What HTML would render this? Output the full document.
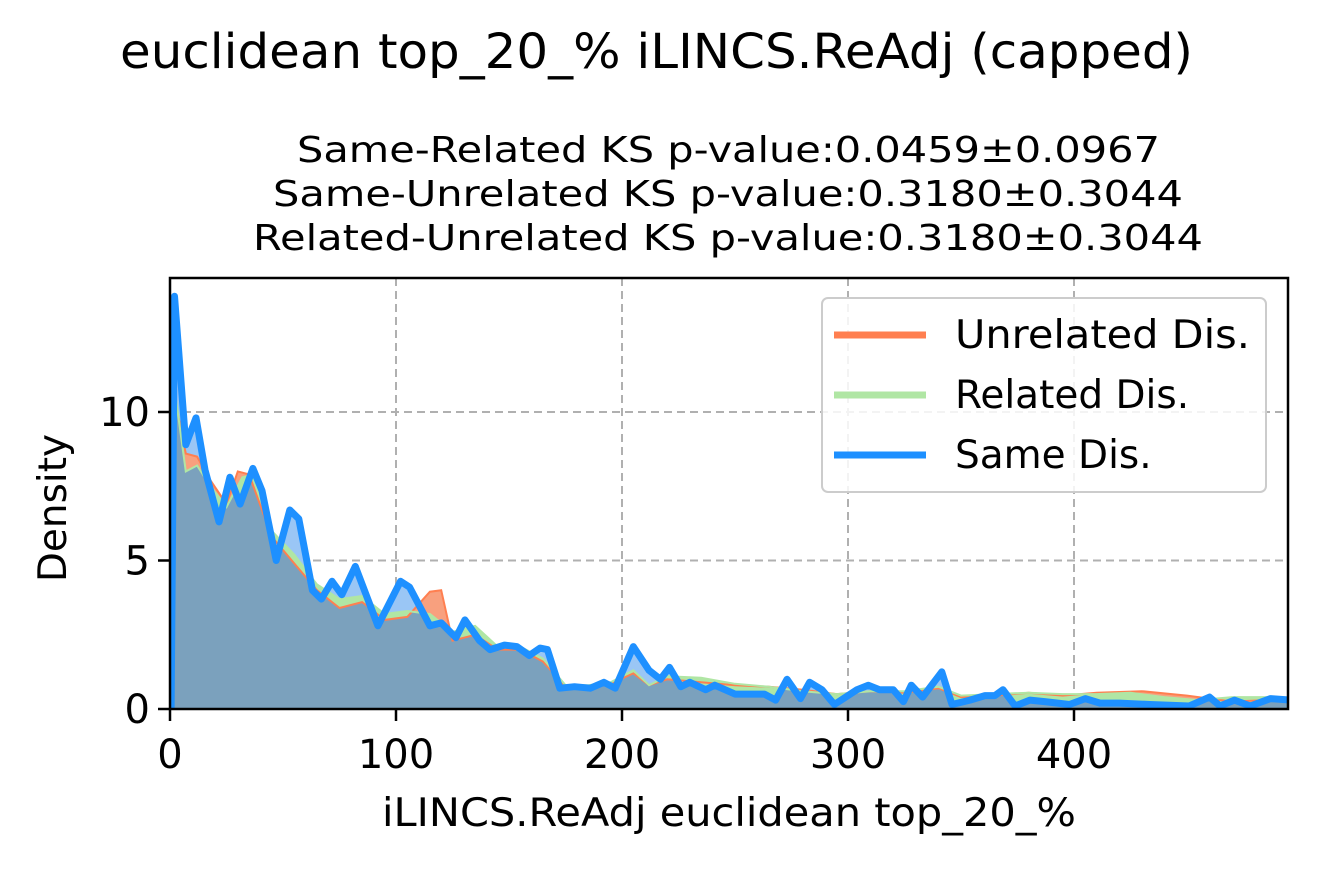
<!DOCTYPE html>
<html><head><meta charset="utf-8"><style>
body{margin:0;background:#fff;}
svg text{font-family:"DejaVu Sans","Liberation Sans",sans-serif;fill:#000;}
</style></head><body>
<svg id="chart" width="1317" height="866" viewBox="0 0 1317 866" xmlns="http://www.w3.org/2000/svg">
<text x="120" y="68" font-size="48" textLength="1073" lengthAdjust="spacingAndGlyphs">euclidean top_20_% iLINCS.ReAdj (capped)</text>
<text x="297" y="162" font-size="36" textLength="863" lengthAdjust="spacingAndGlyphs">Same-Related KS p-value:0.0459±0.0967</text>
<text x="273" y="206" font-size="36" textLength="910" lengthAdjust="spacingAndGlyphs">Same-Unrelated KS p-value:0.3180±0.3044</text>
<text x="253" y="250" font-size="36" textLength="950" lengthAdjust="spacingAndGlyphs">Related-Unrelated KS p-value:0.3180±0.3044</text>
<defs><clipPath id="clip"><rect x="170" y="278" width="1118" height="431"/></clipPath></defs>
<g id="grid"></g>
<g id="marks" clip-path="url(#clip)"></g>
<rect x="170" y="278" width="1118" height="431" fill="none" stroke="#000" stroke-width="2.5"/>
<g id="ticks"></g>
<text x="382" y="826" font-size="39" textLength="694" lengthAdjust="spacingAndGlyphs">iLINCS.ReAdj euclidean top_20_%</text>
<text x="0" y="0" font-size="39" text-anchor="middle" transform="translate(66,508) rotate(-90)">Density</text>
<g>
<rect x="822" y="298" width="444" height="194" rx="6" fill="#fff" fill-opacity="0.85" stroke="#ccc" stroke-width="2"/>
<line x1="834" y1="335" x2="926" y2="335" stroke="#ff7f50" stroke-width="7"/>
<text x="955" y="348" font-size="39" textLength="295" lengthAdjust="spacingAndGlyphs">Unrelated Dis.</text>
<line x1="834" y1="395" x2="926" y2="395" stroke="#b0e6a4" stroke-width="7"/>
<text x="955" y="408" font-size="39">Related Dis.</text>
<line x1="834" y1="455" x2="926" y2="455" stroke="#1e90ff" stroke-width="7"/>
<text x="955" y="468" font-size="39">Same Dis.</text>
</g>
</svg>
<script>
const xTicks=[0,100,200,300,400];
const yTicks=[0,5,10];
const sameX=[0.5,2,7,11.5,15.5,21.7,26.5,31,36.7,40.7,47,53,57,63,67,71.7,76,82,92,102,106,115,120,126.5,130.5,137,141.6,148,153.5,159,163.7,167,172.5,179,186,192,197,205,212,217,221,226,230,237,241,250,263,268,273,279,283,288.5,294,304,309,314,320,324.5,328,333,341.5,346,354,360.6,365,368.6,374,380.5,387,398,405,411.5,420,433.6,451,460,464.6,471,478,487,496];
const sameY=[0,13.9,8.9,9.8,8.05,6.3,7.8,6.9,8.1,7.35,5.0,6.7,6.4,4.0,3.7,4.3,3.85,4.8,2.8,4.3,4.1,2.8,2.9,2.4,3.0,2.3,2.0,2.15,2.1,1.8,2.05,2.0,0.7,0.75,0.7,0.9,0.7,2.1,1.3,1.0,1.4,0.75,0.9,0.65,0.8,0.5,0.5,0.3,1.0,0.35,0.9,0.65,0.15,0.65,0.8,0.65,0.65,0.25,0.8,0.4,1.25,0.15,0.3,0.45,0.45,0.65,0.1,0.3,0.25,0.15,0.35,0.2,0.2,0.15,0.1,0.4,0.1,0.3,0.1,0.35,0.3];
const relX=[0.5,2,7,12,17,25,32,37,45,55,65,75,85,95,105,115,125,135,145,155,165,175,185,195,205,212,220,235,250,265,280,295,310,325,340,350,365,380,395,410,425,440,455,470,485,496];
const relY=[0,10.8,8.0,8.2,7.6,6.8,7.8,7.9,6.0,5.2,4.2,3.7,3.8,3.2,3.3,3.2,2.6,2.8,2.1,2.1,1.7,0.8,0.8,0.9,1.3,0.8,1.1,1.05,0.85,0.75,0.6,0.5,0.6,0.6,0.75,0.45,0.5,0.55,0.5,0.5,0.55,0.4,0.3,0.4,0.4,0.3];
const unrX=[0.5,2,7,12,17,25,30,35,45,55,65,75,85,95,105,115,120,125,135,145,155,165,175,185,195,205,212,220,235,250,265,280,295,310,325,340,350,365,380,395,410,430,450,470,485,496];
const unrY=[0,10.5,8.6,8.5,7.8,6.9,8.0,7.9,5.8,4.9,4.0,3.4,3.6,3.0,3.1,3.95,4.0,2.3,2.5,2.0,2.0,1.6,0.75,0.75,0.85,1.2,0.8,1.0,0.9,0.8,0.75,0.65,0.5,0.6,0.55,0.7,0.4,0.45,0.55,0.45,0.55,0.6,0.45,0.25,0.3,0.25];
const X0=170,XS=2.26,Y0=709,YS=29.7;
const xs=v=>X0+v*XS, ys=v=>Y0-v*YS;
const NS='http://www.w3.org/2000/svg';
const grid=document.getElementById('grid'),marks=document.getElementById('marks'),ticks=document.getElementById('ticks');
function mk(tag,attrs,parent){const e=document.createElementNS(NS,tag);for(const k in attrs)e.setAttribute(k,attrs[k]);parent.appendChild(e);return e;}
xTicks.forEach(t=>{
 const g=mk('line',{x1:xs(t),x2:xs(t),y1:278,y2:709,stroke:'#b0b0b0','stroke-width':2,'stroke-dasharray':'8,5'},grid);
 
 
 const tk=mk('line',{x1:xs(t),x2:xs(t),y1:709,y2:721,stroke:'#000','stroke-width':2.5},ticks);
 
 
 const tl=mk('text',{x:xs(t),y:768,'font-size':40,'text-anchor':'middle'},ticks);tl.textContent=t;
 
 
});
yTicks.forEach(t=>{
 if(t>0){const g=mk('line',{x1:170,x2:1288,y1:ys(t),y2:ys(t),stroke:'#b0b0b0','stroke-width':2,'stroke-dasharray':'8,5'},grid);
 
 }
 const tk=mk('line',{x1:158,x2:170,y1:ys(t),y2:ys(t),stroke:'#000','stroke-width':2.5},ticks);
 
 
 const tl=mk('text',{x:150,y:ys(t)+14,'font-size':40,'text-anchor':'end'},ticks);tl.textContent=t;
 
 
});
function pts(X,Y){return X.map((x,i)=>xs(x).toFixed(1)+','+ys(Y[i]).toFixed(1)).join(' ');}
function area(X,Y){return 'M'+xs(X[0])+','+Y0+' L'+pts(X,Y)+' L'+xs(X[X.length-1])+','+Y0+'Z';}
function interp(X,Y,x){for(let i=1;i<X.length;i++){if(x<=X[i]){const f=(x-X[i-1])/(X[i]-X[i-1]);return Y[i-1]+f*(Y[i]-Y[i-1]);}}return Y[Y.length-1];}
let a;
a=mk('path',{d:area(sameX,sameY),fill:'#9ac6f5'},marks);


a=mk('path',{d:area(unrX,unrY),fill:'#f8a07e'},marks);


a=mk('path',{d:area(relX,relY),fill:'#b0e6a4'},marks);


const gx=[],gy=[];
for(let x=0.5;x<=496;x+=1){gx.push(x);gy.push(Math.min(interp(sameX,sameY,x),interp(relX,relY,x),interp(unrX,unrY,x)));}
a=mk('path',{d:area(gx,gy),fill:'#7ba1bd'},marks);


a=mk('polyline',{points:pts(unrX,unrY),fill:'none',stroke:'#ff7f50','stroke-width':2},marks);


a=mk('polyline',{points:pts(relX,relY),fill:'none',stroke:'#b0e6a4','stroke-width':2},marks);


a=mk('polyline',{points:pts(sameX,sameY),fill:'none',stroke:'#1e90ff','stroke-width':7,'stroke-linejoin':'round'},marks);


</script>
</body></html>
